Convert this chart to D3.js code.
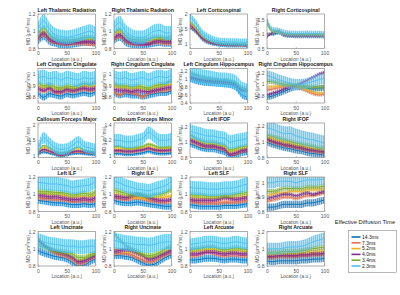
<!DOCTYPE html>
<html>
<head>
<meta charset="utf-8">
<script src="https://cdn.jsdelivr.net/npm/d3@7"></script>
<style>
body { margin: 0; background: #fff; }
svg { display: block; font-family: "Liberation Sans", Arial, sans-serif; }
</style>
</head>
<body>
<svg id="chart" width="400" height="295"></svg>
<script>
var tracts = [
    'Left Thalamic Radiation', 'Right Thalamic Radiation', 'Left Corticospinal', 'Right Corticospinal',
    'Left Cingulum Cingulate', 'Right Cingulum Cingulate', 'Left Cingulum Hippocampus', 'Right Cingulum Hippocampus',
    'Callosum Forceps Major', 'Callosum Forceps Minor', 'Left IFOF', 'Right IFOF',
    'Left ILF', 'Right ILF', 'Left SLF', 'Right SLF',
    'Left Uncinate', 'Right Uncinate', 'Left Arcuate', 'Right Arcuate'
];
var diffusionTimes = ['14.3ms', '7.3ms', '5.2ms', '4.0ms', '3.4ms', '2.3ms'];
var seriesColors = ['#0072BD', '#E5704C', '#EDB120', '#7E2F8E', '#77AC30', '#4DBEEE'];
var locations = [0, 10, 20, 30, 40, 50, 60, 70, 80, 90, 100];
var xTicks = [0, 50, 100];

var yDomains = [
    [0.8, 1.2], [0.8, 1.2], [0.85, 2.0], [0.5, 1.7],
    [0.75, 1.05], [0.75, 1.05], [0.4, 1.25], [0.68, 1.27],
    [0.94, 2.05], [0.98, 1.42], [0.8, 1.25], [0.8, 1.23],
    [0.8, 1.2], [0.8, 1.2], [0.8, 1.2], [0.8, 1.04],
    [0.8, 1.2], [0.8, 1.2], [0.8, 1.2], [0.8, 1.2]
];
var yTicks = [
    [0.8, 1, 1.2], [0.8, 1, 1.2], [1, 1.5, 2], [0.5, 1, 1.5],
    [0.8, 0.9, 1], [0.8, 0.9, 1], [0.4, 0.6, 0.8, 1, 1.2], [0.8, 1, 1.2],
    [1, 1.5, 2], [1, 1.2, 1.4], [0.8, 1, 1.2], [0.8, 1, 1.2],
    [0.8, 1, 1.2], [0.8, 1, 1.2], [0.8, 1, 1.2], [0.8, 0.9, 1],
    [0.8, 1, 1.2], [0.8, 1, 1.2], [0.8, 1, 1.2], [0.8, 1, 1.2]
];

// mean MD per diffusion time (rows in legend order), sampled at `locations`
var mdLeftThalamic = [
    [0.88, 0.94, 0.88, 0.86, 0.84, 0.84, 0.85, 0.86, 0.87, 0.87, 0.86],
    [0.90, 0.96, 0.89, 0.87, 0.86, 0.85, 0.86, 0.86, 0.86, 0.85, 0.85],
    [0.94, 1.00, 0.93, 0.90, 0.88, 0.88, 0.88, 0.89, 0.90, 0.91, 0.90],
    [0.92, 0.98, 0.91, 0.88, 0.87, 0.86, 0.87, 0.87, 0.88, 0.88, 0.87],
    [0.96, 1.04, 0.96, 0.92, 0.90, 0.90, 0.90, 0.91, 0.93, 0.93, 0.92],
    [1.02, 1.12, 1.02, 0.96, 0.94, 0.93, 0.94, 0.96, 0.98, 1.00, 0.97]
];
var mdRightThalamic = [
    [0.89, 0.93, 0.87, 0.85, 0.84, 0.84, 0.85, 0.86, 0.87, 0.86, 0.86],
    [0.90, 0.94, 0.88, 0.86, 0.85, 0.85, 0.86, 0.87, 0.87, 0.86, 0.86],
    [0.94, 0.99, 0.92, 0.89, 0.88, 0.88, 0.89, 0.90, 0.91, 0.90, 0.91],
    [0.92, 0.96, 0.90, 0.87, 0.86, 0.85, 0.85, 0.88, 0.89, 0.88, 0.88],
    [0.97, 1.02, 0.95, 0.91, 0.90, 0.90, 0.91, 0.93, 0.93, 0.92, 0.93],
    [1.04, 1.10, 1.00, 0.95, 0.93, 0.93, 0.96, 1.00, 1.01, 0.98, 0.98]
];
var mdLeftCorticospinal = [
    [1.55, 1.40, 1.18, 1.06, 1.00, 0.97, 0.95, 0.94, 0.94, 0.94, 0.93],
    [1.60, 1.42, 1.20, 1.08, 1.02, 0.99, 0.97, 0.96, 0.96, 0.95, 0.95],
    [1.70, 1.50, 1.25, 1.12, 1.05, 1.02, 1.00, 0.99, 0.99, 0.98, 0.98],
    [1.65, 1.45, 1.22, 1.10, 1.03, 1.00, 0.98, 0.97, 0.97, 0.97, 0.96],
    [1.75, 1.55, 1.30, 1.15, 1.08, 1.04, 1.02, 1.01, 1.01, 1.00, 1.00],
    [1.90, 1.70, 1.40, 1.25, 1.15, 1.10, 1.08, 1.07, 1.07, 1.06, 1.06]
];
var mdRightCorticospinal = [
    [1.00, 1.00, 1.05, 0.95, 0.93, 0.92, 0.92, 0.92, 0.92, 0.92, 0.91],
    [0.95, 1.05, 1.10, 0.97, 0.95, 0.94, 0.94, 0.94, 0.94, 0.93, 0.93],
    [1.50, 1.08, 1.08, 1.00, 0.98, 0.97, 0.97, 0.97, 0.97, 0.96, 0.95],
    [0.90, 1.05, 1.12, 0.98, 0.96, 0.95, 0.95, 0.95, 0.95, 0.94, 0.94],
    [1.35, 1.10, 1.10, 1.02, 1.00, 0.99, 0.99, 0.99, 0.99, 0.98, 0.97],
    [1.45, 1.15, 1.12, 1.05, 1.03, 1.02, 1.02, 1.03, 1.02, 1.02, 1.00]
];
var mdLeftCingCing = [
    [0.84, 0.80, 0.83, 0.82, 0.81, 0.83, 0.82, 0.83, 0.84, 0.83, 0.85],
    [0.87, 0.85, 0.87, 0.84, 0.84, 0.86, 0.85, 0.86, 0.87, 0.86, 0.87],
    [0.90, 0.88, 0.89, 0.87, 0.87, 0.88, 0.87, 0.88, 0.90, 0.89, 0.90],
    [0.88, 0.86, 0.88, 0.85, 0.85, 0.87, 0.86, 0.87, 0.88, 0.87, 0.88],
    [0.93, 0.90, 0.91, 0.89, 0.88, 0.90, 0.89, 0.90, 0.92, 0.91, 0.93],
    [0.97, 0.98, 0.96, 0.97, 0.95, 0.97, 0.96, 0.95, 0.97, 0.96, 0.97]
];
var mdRightCingCing = [
    [0.84, 0.82, 0.83, 0.82, 0.82, 0.81, 0.82, 0.83, 0.84, 0.84, 0.86],
    [0.85, 0.82, 0.85, 0.84, 0.83, 0.80, 0.84, 0.85, 0.86, 0.86, 0.88],
    [0.90, 0.88, 0.88, 0.87, 0.88, 0.87, 0.87, 0.88, 0.89, 0.90, 0.92],
    [0.87, 0.86, 0.86, 0.85, 0.86, 0.85, 0.85, 0.86, 0.87, 0.88, 0.89],
    [0.92, 0.90, 0.90, 0.89, 0.90, 0.89, 0.88, 0.90, 0.91, 0.92, 0.95],
    [0.98, 0.96, 0.97, 0.95, 0.96, 0.97, 0.95, 0.97, 0.98, 0.97, 0.99]
];
var mdLeftCingHipp = [
    [1.00, 0.95, 0.92, 0.90, 0.89, 0.88, 0.87, 0.85, 0.78, 0.60, 0.55],
    [1.02, 0.98, 0.95, 0.93, 0.92, 0.91, 0.90, 0.88, 0.83, 0.70, 0.68],
    [1.12, 1.05, 1.00, 0.98, 0.97, 0.96, 0.95, 0.93, 0.88, 0.75, 0.72],
    [1.05, 1.00, 0.97, 0.95, 0.94, 0.93, 0.92, 0.90, 0.85, 0.72, 0.70],
    [1.15, 1.10, 1.05, 1.02, 1.00, 0.98, 0.97, 0.95, 0.90, 0.78, 0.75],
    [1.10, 1.08, 1.05, 1.03, 1.00, 0.98, 0.97, 0.95, 0.90, 0.75, 0.70]
];
var mdRightCingHipp = [
    [0.78, 0.80, 0.84, 0.88, 0.92, 0.95, 0.95, 0.93, 0.92, 0.93, 0.94],
    [0.90, 0.92, 0.94, 0.96, 0.97, 0.96, 0.93, 0.88, 0.84, 0.82, 0.83],
    [0.95, 0.96, 0.97, 0.98, 0.98, 0.97, 0.94, 0.90, 0.87, 0.85, 0.86],
    [0.82, 0.85, 0.88, 0.92, 0.95, 0.98, 1.02, 1.07, 1.12, 1.17, 1.20],
    [1.05, 1.04, 1.02, 1.00, 0.99, 0.98, 0.97, 0.96, 0.95, 0.95, 0.96],
    [1.15, 1.12, 1.08, 1.05, 1.02, 1.00, 1.00, 1.02, 1.05, 1.08, 1.10]
];
var mdForcepsMajor = [
    [1.03, 1.12, 1.08, 1.03, 0.98, 1.02, 1.06, 1.08, 1.06, 1.04, 1.03],
    [1.06, 1.18, 1.12, 1.06, 1.00, 1.05, 1.10, 1.12, 1.10, 1.08, 1.06],
    [1.10, 1.25, 1.20, 1.12, 1.06, 1.10, 1.15, 1.20, 1.15, 1.12, 1.10],
    [1.08, 1.20, 1.15, 1.08, 1.02, 1.07, 1.12, 1.15, 1.12, 1.10, 1.08],
    [1.12, 1.32, 1.25, 1.15, 1.10, 1.12, 1.20, 1.27, 1.18, 1.14, 1.12],
    [1.20, 1.58, 1.40, 1.25, 1.20, 1.22, 1.33, 1.45, 1.30, 1.25, 1.20]
];
var mdForcepsMinor = [
    [1.03, 1.03, 1.02, 1.02, 1.03, 1.04, 1.06, 1.04, 1.03, 1.03, 1.04],
    [1.06, 1.06, 1.05, 1.05, 1.06, 1.07, 1.09, 1.07, 1.06, 1.06, 1.07],
    [1.09, 1.09, 1.08, 1.08, 1.09, 1.10, 1.12, 1.10, 1.09, 1.09, 1.10],
    [1.07, 1.07, 1.06, 1.06, 1.07, 1.08, 1.10, 1.08, 1.07, 1.07, 1.08],
    [1.12, 1.12, 1.10, 1.10, 1.11, 1.12, 1.15, 1.13, 1.11, 1.11, 1.12],
    [1.20, 1.20, 1.18, 1.18, 1.20, 1.22, 1.30, 1.25, 1.20, 1.20, 1.22]
];
var mdLeftIFOF = [
    [0.98, 0.95, 0.92, 0.91, 0.91, 0.89, 0.87, 0.82, 0.83, 0.86, 0.87],
    [1.02, 0.98, 0.95, 0.94, 0.94, 0.92, 0.90, 0.84, 0.85, 0.88, 0.89],
    [1.06, 1.02, 0.99, 0.97, 0.97, 0.95, 0.93, 0.87, 0.89, 0.91, 0.92],
    [1.03, 1.00, 0.97, 0.95, 0.95, 0.93, 0.91, 0.84, 0.86, 0.89, 0.90],
    [1.10, 1.05, 1.02, 1.00, 1.00, 0.98, 0.96, 0.90, 0.92, 0.94, 0.95],
    [1.15, 1.12, 1.10, 1.08, 1.08, 1.06, 1.05, 1.00, 1.02, 1.03, 1.05]
];
var mdRightIFOF = [
    [0.99, 0.96, 0.94, 0.92, 0.91, 0.89, 0.88, 0.86, 0.85, 0.84, 0.83],
    [1.02, 0.99, 0.97, 0.95, 0.94, 0.92, 0.91, 0.89, 0.88, 0.87, 0.86],
    [1.05, 1.03, 1.01, 0.99, 0.97, 0.95, 0.94, 0.92, 0.91, 0.90, 0.89],
    [1.03, 1.00, 0.98, 0.96, 0.95, 0.93, 0.92, 0.90, 0.89, 0.88, 0.87],
    [1.08, 1.06, 1.04, 1.02, 1.00, 0.98, 0.97, 0.95, 0.94, 0.92, 0.92],
    [1.17, 1.15, 1.12, 1.10, 1.10, 1.07, 1.05, 1.03, 1.02, 1.00, 0.98]
];
var mdLeftILF = [
    [0.93, 0.92, 0.91, 0.90, 0.90, 0.89, 0.88, 0.88, 0.89, 0.88, 0.89],
    [0.97, 0.95, 0.95, 0.94, 0.94, 0.93, 0.92, 0.92, 0.93, 0.92, 0.93],
    [1.01, 1.00, 1.00, 0.99, 0.99, 0.98, 0.96, 0.97, 0.97, 0.97, 0.99],
    [0.99, 0.98, 0.97, 0.97, 0.96, 0.95, 0.94, 0.94, 0.95, 0.94, 0.96],
    [1.04, 1.03, 1.03, 1.02, 1.02, 1.01, 0.99, 1.00, 1.01, 1.00, 1.03],
    [1.14, 1.13, 1.12, 1.12, 1.11, 1.10, 1.08, 1.09, 1.10, 1.11, 1.15]
];
var mdRightILF = [
    [0.93, 0.91, 0.90, 0.90, 0.91, 0.90, 0.89, 0.88, 0.87, 0.86, 0.86],
    [0.97, 0.95, 0.94, 0.95, 0.96, 0.95, 0.93, 0.92, 0.91, 0.91, 0.92],
    [1.00, 0.99, 0.97, 0.97, 0.97, 0.96, 0.95, 0.95, 0.96, 0.97, 0.98],
    [0.98, 0.97, 0.96, 0.98, 1.00, 0.99, 0.96, 0.94, 0.93, 0.93, 0.94],
    [1.05, 1.03, 1.01, 1.00, 1.00, 0.99, 0.98, 0.99, 1.00, 1.02, 1.05],
    [1.15, 1.13, 1.10, 1.08, 1.06, 1.05, 1.04, 1.06, 1.08, 1.10, 1.15]
];
var mdLeftSLF = [
    [0.88, 0.87, 0.86, 0.86, 0.86, 0.86, 0.87, 0.87, 0.87, 0.88, 0.89],
    [0.92, 0.91, 0.90, 0.90, 0.90, 0.90, 0.91, 0.91, 0.91, 0.92, 0.93],
    [0.96, 0.96, 0.95, 0.95, 0.95, 0.95, 0.96, 0.96, 0.96, 0.97, 0.98],
    [0.94, 0.93, 0.93, 0.93, 0.93, 0.94, 0.96, 0.95, 0.94, 0.95, 0.96],
    [1.00, 0.99, 0.99, 0.98, 0.98, 0.98, 0.99, 0.99, 1.00, 1.01, 1.02],
    [1.08, 1.07, 1.07, 1.06, 1.06, 1.06, 1.07, 1.07, 1.08, 1.10, 1.12]
];
var mdRightSLF = [
    [0.83, 0.83, 0.84, 0.85, 0.85, 0.85, 0.85, 0.86, 0.86, 0.87, 0.88],
    [0.87, 0.88, 0.89, 0.90, 0.90, 0.89, 0.90, 0.91, 0.91, 0.92, 0.93],
    [0.91, 0.92, 0.93, 0.93, 0.94, 0.94, 0.94, 0.95, 0.95, 0.95, 0.96],
    [0.89, 0.90, 0.91, 0.92, 0.92, 0.91, 0.92, 0.93, 0.92, 0.93, 0.94],
    [0.94, 0.94, 0.95, 0.96, 0.96, 0.96, 0.96, 0.97, 0.97, 0.97, 0.98],
    [1.00, 1.00, 1.01, 1.01, 1.01, 1.00, 1.01, 1.02, 1.02, 1.02, 1.03]
];
var mdLeftUncinate = [
    [0.98, 0.95, 0.93, 0.91, 0.90, 0.88, 0.84, 0.80, 0.81, 0.85, 0.88],
    [1.12, 1.05, 0.99, 0.95, 0.93, 0.91, 0.87, 0.83, 0.84, 0.88, 0.91],
    [1.12, 1.05, 1.00, 0.97, 0.95, 0.93, 0.90, 0.86, 0.87, 0.90, 0.93],
    [1.10, 1.04, 1.00, 0.97, 0.95, 0.93, 0.90, 0.85, 0.86, 0.89, 0.92],
    [1.05, 1.02, 1.00, 0.98, 0.97, 0.96, 0.94, 0.90, 0.90, 0.93, 0.95],
    [1.10, 1.08, 1.06, 1.05, 1.04, 1.03, 1.03, 1.02, 1.02, 1.03, 1.03]
];
var mdRightUncinate = [
    [0.92, 0.92, 0.91, 0.90, 0.87, 0.84, 0.81, 0.82, 0.86, 0.90, 0.93],
    [0.95, 0.95, 0.95, 0.93, 0.90, 0.87, 0.85, 0.86, 0.90, 0.93, 0.96],
    [1.00, 0.99, 0.98, 0.97, 0.95, 0.92, 0.89, 0.90, 0.93, 0.96, 0.99],
    [0.97, 0.98, 0.99, 0.98, 0.95, 0.92, 0.88, 0.89, 0.92, 0.95, 0.98],
    [1.18, 1.10, 1.04, 1.00, 0.97, 0.94, 0.92, 0.93, 0.96, 1.00, 1.03],
    [1.10, 1.08, 1.07, 1.06, 1.05, 1.05, 1.04, 1.05, 1.07, 1.08, 1.08]
];
var mdLeftArcuate = [
    [0.87, 0.87, 0.88, 0.89, 0.89, 0.88, 0.87, 0.88, 0.88, 0.87, 0.87],
    [0.92, 0.92, 0.94, 0.96, 0.95, 0.93, 0.92, 0.93, 0.93, 0.92, 0.92],
    [0.96, 0.97, 0.98, 0.99, 0.99, 0.97, 0.96, 0.97, 0.98, 0.97, 0.96],
    [0.94, 0.94, 0.95, 0.96, 0.96, 0.95, 0.94, 0.95, 0.95, 0.94, 0.94],
    [0.99, 1.00, 1.01, 1.02, 1.02, 1.00, 0.99, 1.00, 1.01, 1.00, 0.99],
    [1.05, 1.06, 1.07, 1.08, 1.08, 1.07, 1.06, 1.07, 1.08, 1.07, 1.06]
];
var mdRightArcuate = [
    [0.86, 0.85, 0.86, 0.86, 0.86, 0.86, 0.87, 0.87, 0.88, 0.88, 0.89],
    [0.90, 0.90, 0.91, 0.91, 0.91, 0.91, 0.92, 0.92, 0.93, 0.93, 0.94],
    [0.93, 0.93, 0.94, 0.94, 0.94, 0.94, 0.95, 0.96, 0.96, 0.97, 0.98],
    [0.91, 0.91, 0.92, 0.92, 0.92, 0.92, 0.93, 0.93, 0.94, 0.94, 0.95],
    [0.96, 0.96, 0.96, 0.97, 0.97, 0.97, 0.98, 0.99, 1.00, 1.01, 1.02],
    [1.00, 1.00, 1.00, 1.01, 1.02, 1.02, 1.03, 1.05, 1.08, 1.10, 1.12]
];

// error bar half-width per diffusion time, per tract
var mdErrors = [
    [0.04, 0.025, 0.025, 0.025, 0.03, 0.08], [0.04, 0.025, 0.025, 0.025, 0.03, 0.08],
    [0.06, 0.04, 0.04, 0.04, 0.05, 0.12], [0.06, 0.04, 0.04, 0.04, 0.05, 0.1],
    [0.03, 0.018, 0.018, 0.018, 0.022, 0.06], [0.03, 0.018, 0.018, 0.018, 0.022, 0.06],
    [0.08, 0.04, 0.04, 0.04, 0.05, 0.18], [0.05, 0.03, 0.03, 0.03, 0.04, 0.09],
    [0.05, 0.035, 0.035, 0.035, 0.04, 0.18], [0.025, 0.018, 0.018, 0.018, 0.02, 0.08],
    [0.04, 0.025, 0.025, 0.025, 0.03, 0.09], [0.04, 0.025, 0.025, 0.025, 0.03, 0.09],
    [0.04, 0.025, 0.025, 0.025, 0.03, 0.08], [0.04, 0.025, 0.025, 0.025, 0.03, 0.08],
    [0.04, 0.025, 0.025, 0.025, 0.03, 0.08], [0.025, 0.013, 0.013, 0.013, 0.016, 0.04],
    [0.04, 0.025, 0.025, 0.025, 0.03, 0.08], [0.04, 0.025, 0.025, 0.025, 0.03, 0.09],
    [0.04, 0.025, 0.025, 0.025, 0.03, 0.07], [0.04, 0.025, 0.025, 0.025, 0.03, 0.07]
];

var mdByTract = [
    mdLeftThalamic, mdRightThalamic, mdLeftCorticospinal, mdRightCorticospinal,
    mdLeftCingCing, mdRightCingCing, mdLeftCingHipp, mdRightCingHipp,
    mdForcepsMajor, mdForcepsMinor, mdLeftIFOF, mdRightIFOF,
    mdLeftILF, mdRightILF, mdLeftSLF, mdRightSLF,
    mdLeftUncinate, mdRightUncinate, mdLeftArcuate, mdRightArcuate
];


/* Layout */
var colLeft = [38, 114, 190, 267];
var rowTop = [14, 68.5, 123, 177, 231.5];
var panelWidth = 57.5;
var panelHeight = 34.5;
var axisColor = '#8a8a8a';
var textColor = '#555';

var svg = d3.select('#chart');
var defs = svg.append('defs');

// vertical hatching that stands in for the dense error bars
seriesColors.forEach(function(c, s) {
    var p = defs.append('pattern')
        .attr('id', 'bars' + s)
        .attr('patternUnits', 'userSpaceOnUse')
        .attr('width', 2)
        .attr('height', 4);
    p.append('rect')
        .attr('width', 2)
        .attr('height', 4)
        .style('fill', c)
        .style('opacity', 0.55);
    p.append('rect')
        .attr('width', 1)
        .attr('height', 4)
        .style('fill', c);
});

var xScale = d3.scaleLinear().domain([0, 100]).range([0, panelWidth]);

function drawPanel(i) {
    var col = i % 4;
    var row = Math.floor(i / 4);
    var yScale = d3.scaleLinear().domain(yDomains[i]).range([panelHeight, 0]);
    var g = svg.append('g')
        .attr('transform', 'translate(' + colLeft[col] + ',' + rowTop[row] + ')');

    g.append('clipPath')
        .attr('id', 'clip' + i)
        .append('rect')
        .attr('width', panelWidth)
        .attr('height', panelHeight);

    var plot = g.append('g').attr('clip-path', 'url(#clip' + i + ')');

    var series = mdByTract[i].map(function(values, s) {
        return {
            index: s,
            color: seriesColors[s],
            err: mdErrors[i][s],
            points: values.map(function(v, k) {
                return { loc: locations[k], md: v };
            })
        };
    });

    var band = d3.area()
        .curve(d3.curveMonotoneX)
        .x(function(d) { return xScale(d.loc); });
    var line = d3.line()
        .curve(d3.curveMonotoneX)
        .x(function(d) { return xScale(d.loc); })
        .y(function(d) { return yScale(d.md); });

    series.forEach(function(s) {
        band.y0(function(d) { return yScale(d.md - s.err); })
            .y1(function(d) { return yScale(d.md + s.err); });
        plot.append('path')
            .attr('d', band(s.points))
            .style('fill', 'url(#bars' + s.index + ')')
            .style('opacity', s.index === 5 ? 0.8 : 0.7);
        plot.append('path')
            .attr('d', line(s.points))
            .style('fill', 'none')
            .style('stroke', s.color)
            .style('stroke-width', 0.9);
    });

    // axes, MATLAB style: inward ticks and a full box
    var xAxis = d3.axisBottom(xScale).tickValues(xTicks).tickSize(-1.5).tickPadding(3);
    var yAxis = d3.axisLeft(yScale).tickValues(yTicks[i]).tickSize(-1.5).tickPadding(2.5)
        .tickFormat(d3.format('~g'));

    var gx = g.append('g').attr('transform', 'translate(0,' + panelHeight + ')').call(xAxis);
    var gy = g.append('g').call(yAxis);
    [gx, gy].forEach(function(a) {
        a.select('.domain').remove();
        a.selectAll('line').style('stroke', axisColor).style('stroke-width', 0.5);
        a.selectAll('text').style('font-size', '5px').style('fill', textColor)
            .style('font-family', '"Liberation Sans", Arial, sans-serif');
    });

    g.append('rect')
        .attr('width', panelWidth)
        .attr('height', panelHeight)
        .style('fill', 'none')
        .style('stroke', axisColor)
        .style('stroke-width', 0.7);

    g.append('text')
        .attr('x', panelWidth / 2)
        .attr('y', -2.5)
        .style('text-anchor', 'middle')
        .style('font-size', '5.2px')
        .style('font-weight', 'bold')
        .style('fill', '#222')
        .text(tracts[i]);

    g.append('text')
        .attr('x', panelWidth / 2)
        .attr('y', panelHeight + 12)
        .style('text-anchor', 'middle')
        .style('font-size', '4.8px')
        .style('fill', textColor)
        .text('Location (a.u.)');

    var yl = g.append('text')
        .attr('transform', 'translate(-8.5,' + (panelHeight / 2) + ') rotate(-90)')
        .style('text-anchor', 'middle')
        .style('font-size', '4.6px')
        .style('fill', textColor);
    yl.append('tspan').text('MD (\u03bcm');
    yl.append('tspan').attr('dy', -1.5).style('font-size', '3.4px').text('2');
    yl.append('tspan').attr('dy', 1.5).text('/ms)');
}

tracts.forEach(function(t, i) {
    drawPanel(i);
});


/* Legend */
var legend = svg.append('g');
legend.append('text')
    .attr('x', 365)
    .attr('y', 224)
    .style('text-anchor', 'middle')
    .style('font-size', '5.8px')
    .style('fill', '#222')
    .text('Effective Diffusion Time');

legend.append('rect')
    .attr('x', 348.5)
    .attr('y', 230.5)
    .attr('width', 48)
    .attr('height', 42)
    .style('fill', '#fff')
    .style('stroke', axisColor)
    .style('stroke-width', 0.6);

var legendY = d3.scalePoint().domain(diffusionTimes).range([237, 266]);

legend.selectAll('line.key')
    .data(diffusionTimes)
    .join('line')
    .attr('class', 'key')
    .attr('x1', 351.5)
    .attr('x2', 360.5)
    .attr('y1', function(d) { return legendY(d); })
    .attr('y2', function(d) { return legendY(d); })
    .style('stroke', function(d, i) { return seriesColors[i]; })
    .style('stroke-width', 1.6);

legend.selectAll('text.key')
    .data(diffusionTimes)
    .join('text')
    .attr('class', 'key')
    .attr('x', 362)
    .attr('y', function(d) { return legendY(d) + 1.8; })
    .style('font-size', '5px')
    .style('fill', '#222')
    .text(function(d) { return d; });
</script>
</body>
</html>
